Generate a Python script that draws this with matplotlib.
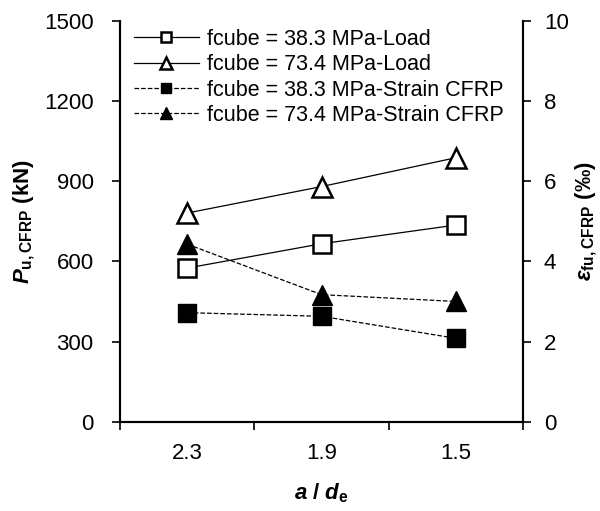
import numpy as np
import matplotlib
matplotlib.use('Agg')
import matplotlib.pyplot as plt

plt.rcParams['font.family'] = ['Liberation Sans', 'DejaVu Sans']
plt.rcParams['mathtext.fontset'] = 'custom'
plt.rcParams['mathtext.rm'] = 'Liberation Sans:bold'
plt.rcParams['mathtext.bf'] = 'Liberation Sans:bold'
plt.rcParams['mathtext.it'] = 'Liberation Sans:italic:bold'

# shear span to depth ratio
ratios = ['2.3', '1.9', '1.5']
# ultimate load (kN)
load_38 = [575, 666, 736]
load_73 = [781, 880, 988]
# CFRP strain (per mille)
strain_38 = [2.72, 2.63, 2.08]
strain_73 = [4.43, 3.17, 3.00]

x = np.arange(len(ratios))
fs = 16

fig = plt.figure(figsize=(6, 5.11), dpi=100)
ax = fig.add_axes([0.2, 0.1748, 0.6717, 0.7842])
ax2 = ax.twinx()

l1, = ax.plot(x, load_38, '-', color='k', lw=0.9, marker='s', ms=13,
              mfc='white', mec='k', mew=1.8, label='fcube = 38.3 MPa-Load')
l2, = ax.plot(x, load_73, '-', color='k', lw=0.9, marker='^', ms=15,
              mfc='white', mec='k', mew=1.8, label='fcube = 73.4 MPa-Load')
l3, = ax2.plot(x, strain_38, '--', color='k', lw=0.9, marker='s', ms=13,
               mfc='k', mec='k', label='fcube = 38.3 MPa-Strain CFRP')
l4, = ax2.plot(x, strain_73, '--', color='k', lw=0.9, marker='^', ms=15,
               mfc='k', mec='k', label='fcube = 73.4 MPa-Strain CFRP')

ax.set_xlim(-0.5, 2.5)
ax.set_ylim(0, 1500)
ax.set_yticks(np.arange(0, 1501, 300))
ax2.set_ylim(0, 10)
ax2.set_yticks(np.arange(0, 11, 2))

# category labels between the ticks
ax.set_xticks([-0.5, 0.5, 1.5, 2.5])
ax.set_xticklabels([])
ax.set_xticks(x, minor=True)
ax.set_xticklabels(ratios, minor=True)
ax.tick_params(axis='x', which='minor', length=0, pad=15, labelsize=fs)
ax.tick_params(axis='x', which='major', length=6, width=1.2, direction='out')
ax.tick_params(axis='y', length=6, width=1.2, direction='out', pad=13,
               labelsize=fs)
ax2.tick_params(axis='y', length=6, width=1.2, direction='out', pad=9,
                labelsize=fs)

for a in (ax, ax2):
    a.spines['top'].set_visible(False)
    for s in ('left', 'right', 'bottom'):
        a.spines[s].set_linewidth(1.5)

ax.set_ylabel(r'$\mathit{P}_{\mathbf{u,CFRP}}$ (kN)', fontsize=fs,
              fontweight='bold')
ax.yaxis.set_label_coords(-0.205, 0.5)
ax2.set_ylabel(r'$\mathit{\varepsilon}_{\mathbf{fu,CFRP}}$ (‰)', fontsize=fs,
               fontweight='bold', rotation=90)
ax2.yaxis.set_label_coords(1.125, 0.5)
ax.set_xlabel(r'$\mathit{a}$ / $\mathit{d}_{\mathbf{e}}$', fontsize=fs,
              fontweight='bold', labelpad=13)

ax2.legend(handles=[l1, l2, l3, l4], loc='upper left',
           bbox_to_anchor=(0.035, 0.98), frameon=False, fontsize=15.5,
           borderpad=0, borderaxespad=0, handlelength=3.0,
           handletextpad=0.4, labelspacing=0.2, markerscale=0.55,
           numpoints=1)

fig.savefig('out.png', dpi=100)
